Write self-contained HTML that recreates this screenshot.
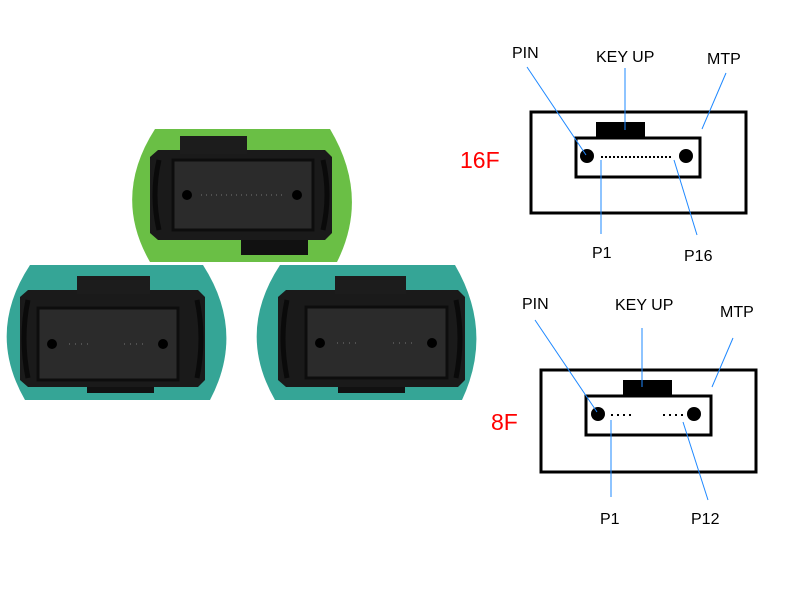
<!DOCTYPE html>
<html><head><meta charset="utf-8"><style>
html,body{margin:0;padding:0;background:#fff}
svg{display:block}
text{font-family:"Liberation Sans","DejaVu Sans",sans-serif}
</style></head><body>
<svg width="788" height="591" viewBox="0 0 788 591" xmlns="http://www.w3.org/2000/svg">
<!-- left teal -->
<path d="M30,265 L203,265 Q246,332 210,400 L25,400 Q-14,332 30,265 Z" fill="#35a596"/>
<rect x="87" y="383" width="67" height="10" fill="#111"/>
<path d="M28,290 L198,290 L205,297 L205,380 L198,387 L28,387 L20,380 L20,297 Z" fill="#1a1a1a"/>
<path d="M28,300 Q20,338 28,378" stroke="#0a0a0a" stroke-width="5" fill="none"/>
<path d="M197,300 Q205,338 197,378" stroke="#0a0a0a" stroke-width="5" fill="none"/>
<rect x="77" y="276" width="73" height="18" fill="#1c1c1c"/>
<rect x="38" y="308" width="140" height="72" fill="#2b2b2b" stroke="#0d0d0d" stroke-width="3"/>
<circle cx="52" cy="344" r="5" fill="#000"/>
<circle cx="163" cy="344" r="5" fill="#000"/>
<line x1="69" y1="344" x2="92" y2="344" stroke="#777" stroke-dasharray="1,5"/>
<line x1="124" y1="344" x2="148" y2="344" stroke="#777" stroke-dasharray="1,5"/>

<!-- right teal -->
<path d="M280,265 L455,265 Q494,332 462,400 L275,400 Q236,332 280,265 Z" fill="#35a596"/>
<rect x="338" y="383" width="67" height="10" fill="#111"/>
<path d="M286,290 L458,290 L465,297 L465,380 L458,387 L286,387 L278,380 L278,297 Z" fill="#1a1a1a"/>
<path d="M287,300 Q279,338 287,378" stroke="#0a0a0a" stroke-width="5" fill="none"/>
<path d="M456,300 Q464,338 456,378" stroke="#0a0a0a" stroke-width="5" fill="none"/>
<rect x="335" y="276" width="71" height="18" fill="#1c1c1c"/>
<rect x="306" y="307" width="141" height="71" fill="#2b2b2b" stroke="#0d0d0d" stroke-width="3"/>
<circle cx="320" cy="343" r="5" fill="#000"/>
<circle cx="432" cy="343" r="5" fill="#000"/>
<line x1="337" y1="343" x2="360" y2="343" stroke="#777" stroke-dasharray="1,5"/>
<line x1="393" y1="343" x2="417" y2="343" stroke="#777" stroke-dasharray="1,5"/>

<!-- top green -->
<path d="M155,129 L330,129 Q370,196 337,262 L150,262 Q112,196 155,129 Z" fill="#6abf45"/>
<rect x="241" y="236" width="67" height="19" fill="#111"/>
<path d="M158,150 L325,150 L332,157 L332,233 L325,240 L158,240 L150,233 L150,157 Z" fill="#1a1a1a"/>
<path d="M159,160 Q151,195 159,230" stroke="#0a0a0a" stroke-width="5" fill="none"/>
<path d="M323,160 Q331,195 323,230" stroke="#0a0a0a" stroke-width="5" fill="none"/>
<rect x="180" y="136" width="67" height="18" fill="#1c1c1c"/>
<rect x="173" y="160" width="140" height="70" fill="#2b2b2b" stroke="#0d0d0d" stroke-width="3"/>
<circle cx="187" cy="195" r="5" fill="#000"/>
<circle cx="297" cy="195" r="5" fill="#000"/>
<line x1="201" y1="195" x2="284" y2="195" stroke="#777" stroke-dasharray="1,4"/>

<!-- 16F diagram -->
<g fill="none" stroke="#000" stroke-width="3">
  <rect x="531" y="112" width="215" height="101"/>
  <rect x="576" y="138" width="124" height="39"/>
</g>
<rect x="596" y="122" width="49" height="16" fill="#000"/>
<circle cx="587" cy="156" r="7" fill="#000"/>
<circle cx="686" cy="156" r="7" fill="#000"/>
<line x1="601" y1="157" x2="673" y2="157" stroke="#000" stroke-width="2" stroke-dasharray="2,2"/>
<g stroke="#1e88ff" stroke-width="1">
  <line x1="527" y1="67" x2="586" y2="155"/>
  <line x1="625" y1="68" x2="625" y2="130"/>
  <line x1="726" y1="73" x2="702" y2="129"/>
  <line x1="601" y1="160" x2="601" y2="234"/>
  <line x1="674" y1="160" x2="697" y2="235"/>
</g>
<g font-size="16" fill="#000">
  <text x="512" y="58">PIN</text>
  <text x="596" y="62">KEY UP</text>
  <text x="707" y="64">MTP</text>
  <text x="592" y="258">P1</text>
  <text x="684" y="261">P16</text>
</g>
<text x="460" y="168" font-size="23" fill="#f00">16F</text>

<!-- 8F diagram -->
<g fill="none" stroke="#000" stroke-width="3">
  <rect x="541" y="370" width="215" height="102"/>
  <rect x="586" y="396" width="125" height="39"/>
</g>
<rect x="623" y="380" width="49" height="16" fill="#000"/>
<circle cx="598" cy="414" r="7" fill="#000"/>
<circle cx="694" cy="414" r="7" fill="#000"/>
<line x1="611" y1="415" x2="632" y2="415" stroke="#000" stroke-width="2" stroke-dasharray="2,4"/>
<line x1="663" y1="415" x2="684" y2="415" stroke="#000" stroke-width="2" stroke-dasharray="2,4"/>
<g stroke="#1e88ff" stroke-width="1">
  <line x1="535" y1="320" x2="597" y2="412"/>
  <line x1="642" y1="328" x2="642" y2="387"/>
  <line x1="733" y1="338" x2="712" y2="387"/>
  <line x1="611" y1="420" x2="611" y2="497"/>
  <line x1="683" y1="422" x2="708" y2="500"/>
</g>
<g font-size="16" fill="#000">
  <text x="522" y="309">PIN</text>
  <text x="615" y="310">KEY UP</text>
  <text x="720" y="317">MTP</text>
  <text x="600" y="524">P1</text>
  <text x="691" y="524">P12</text>
</g>
<text x="491" y="430" font-size="23" fill="#f00">8F</text>
</svg>
</body></html>
